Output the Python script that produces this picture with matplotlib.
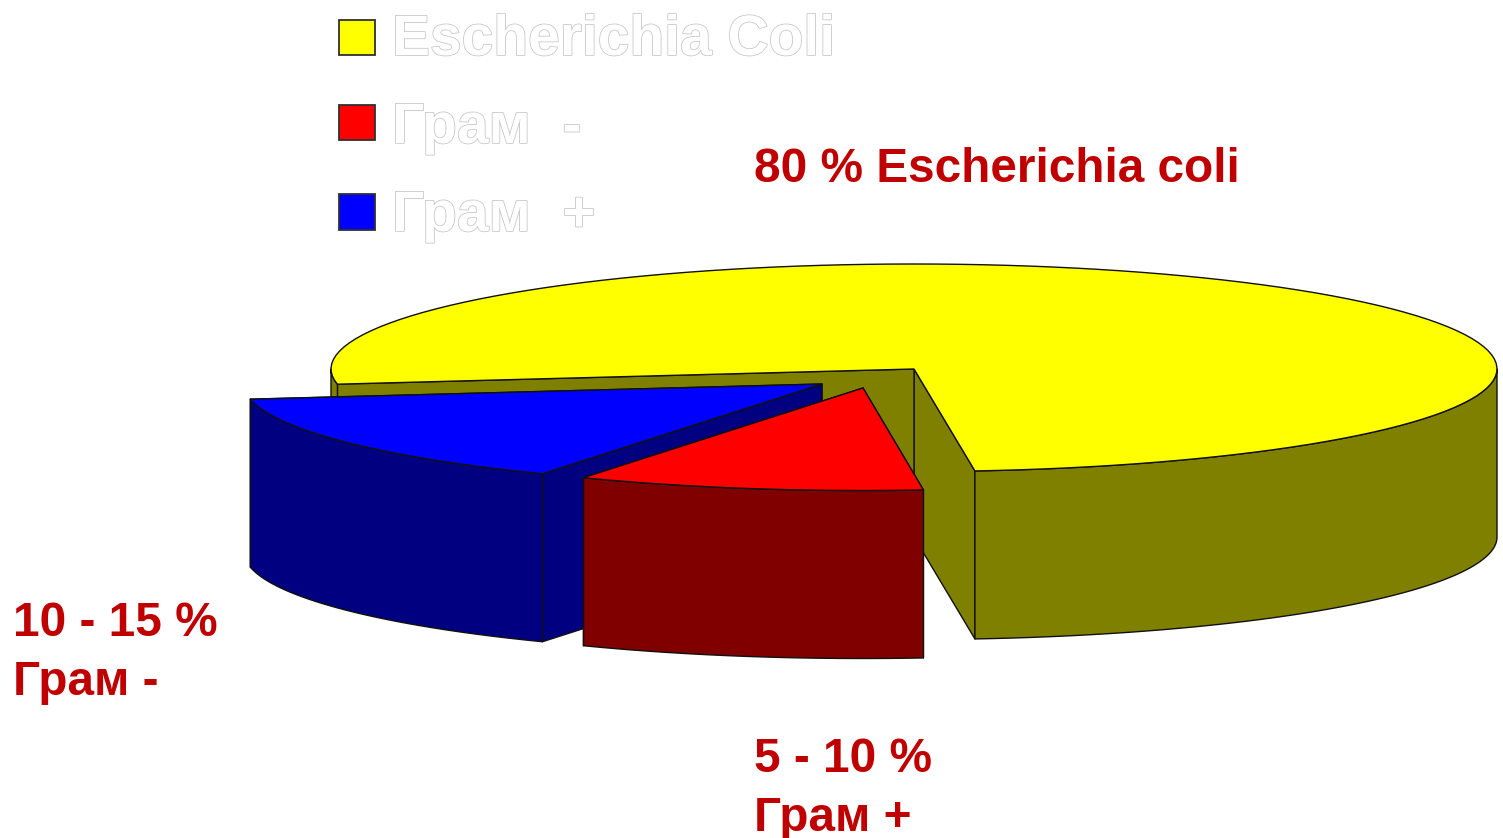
import matplotlib
matplotlib.use("Agg")
import matplotlib.pyplot as plt
import matplotlib.patheffects as pe
from matplotlib.patches import Polygon, Rectangle
import numpy as np

# pie shares (the printed labels are rounder than the slices)
legend_labels = ["Escherichia Coli", "Грам  -", "Грам  +"]
slice_shares = [75.7, 14.6, 9.7]
top_colors = ["#ffff00", "#0000ff", "#ff0000"]
side_colors = ["#808000", "#000080", "#800000"]
legend_colors = ["#ffff00", "#ff0000", "#0000ff"]
note_lines = ["80 % Escherichia coli", "10 - 15 %", "Грам -", "5 - 10 %", "Грам +"]

# pixel geometry of the fake 3d pie
cx, cy = 914, 369
ry_back, ry_front = 105, 102.5
depth = 168
start_angle = -84
radii = [583, 578, 578]
offsets = [(0, 0), (-92, 15), (-51, 19)]

fig = plt.figure(figsize=(15.03, 8.38), dpi=100)
ax = fig.add_axes([0, 0, 1, 1])
ax.set_xlim(0, 1503)
ax.set_ylim(838, 0)
ax.axis("off")


def rim(x0, y0, rx, a1, a2):
    t = np.radians(np.linspace(a1, a2, 120))
    s = np.sin(t)
    # source ellipse is a touch flatter in front than behind
    return np.column_stack([x0 + rx * np.cos(t), y0 - np.where(s > 0, ry_back, ry_front) * s])


def draw_slice(x0, y0, rx, a1, a2, top, side, z):
    edge = dict(edgecolor="#101010", linewidth=1.0, joinstyle="round")
    # walls running from the centre to the rim
    for a in (a1, a2):
        p = rim(x0, y0, rx, a, a)[0]
        wall = [(x0, y0), p, (p[0], p[1] + depth), (x0, y0 + depth)]
        ax.add_patch(Polygon(wall, facecolor=side, zorder=z, **edge))
    # outer wall, only the parts facing the viewer
    for front in (-180, 180):
        lo, hi = max(a1, front), min(a2, front + 180)
        if hi > lo:
            arc = rim(x0, y0, rx, lo, hi)
            low = arc[::-1] + [0, depth]
            ax.add_patch(Polygon(np.vstack([arc, low]), facecolor=side, zorder=z + 0.1, **edge))
    pts = np.vstack([[(x0, y0)], rim(x0, y0, rx, a1, a2)])
    ax.add_patch(Polygon(pts, facecolor=top, zorder=z + 0.2, **edge))


angles = start_angle + np.cumsum([0] + slice_shares) * 3.6
for i in range(len(slice_shares)):
    draw_slice(cx + offsets[i][0], cy + offsets[i][1], radii[i], angles[i], angles[i + 1],
               top_colors[i], side_colors[i], 2 + i)

# legend is white text with a thin grey outline, as in the source slide
legend_y = [55, 143, 231]
box_top = [20, 105, 194]
for lab, col, by, bt in zip(legend_labels, legend_colors, legend_y, box_top):
    ax.add_patch(Rectangle((339, bt), 35.5, 35.5, facecolor=col, edgecolor="#303030",
                           linewidth=1.3, zorder=6))
    t = ax.text(392, by, lab, fontsize=41, family="Liberation Sans", fontweight="bold",
                color="white", va="baseline", ha="left", zorder=6)
    t.set_path_effects([pe.Stroke(linewidth=1.1, foreground="#c4c4c4"), pe.Normal()])

note_x = [754, 13, 13, 754, 754]
note_y = [182, 636, 695, 772, 831]
for s, x, y in zip(note_lines, note_x, note_y):
    ax.text(x, y, s, fontsize=34.4, family="Liberation Sans", fontweight="bold",
            color="#c00000", va="baseline", ha="left", zorder=7)

fig.savefig("out.png", dpi=100)
